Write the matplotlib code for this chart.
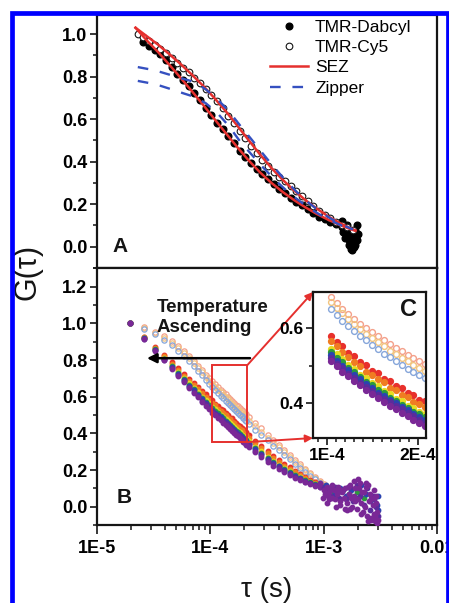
import numpy as np
import matplotlib
matplotlib.use('Agg')
import matplotlib.pyplot as plt
from matplotlib.patches import Rectangle
from matplotlib.ticker import MultipleLocator, LogLocator, NullFormatter, FixedLocator

plt.rcParams['font.family'] = ['Liberation Sans', 'DejaVu Sans']

# ---------------- Panel A data ----------------
cy5_logtau = [-4.64, -4.59, -4.54, -4.49, -4.44, -4.39, -4.34, -4.29, -4.24, -4.19,
              -4.14, -4.09, -4.04, -3.99, -3.94, -3.89, -3.84, -3.79, -3.74, -3.69,
              -3.64, -3.59, -3.54, -3.49, -3.44, -3.39, -3.34, -3.29, -3.24, -3.19,
              -3.14, -3.09, -3.04, -2.99, -2.94, -2.89, -2.84, -2.79, -2.74]
cy5_G = [1.00, 0.985, 0.968, 0.951, 0.932, 0.911, 0.889, 0.866, 0.843, 0.820,
         0.795, 0.770, 0.743, 0.715, 0.684, 0.651, 0.617, 0.581, 0.546, 0.510,
         0.475, 0.440, 0.407, 0.378, 0.352, 0.330, 0.308, 0.286, 0.263, 0.240,
         0.215, 0.192, 0.170, 0.151, 0.133, 0.117, 0.104, 0.092, 0.080]

dab_logtau = [-4.59, -4.54, -4.49, -4.44, -4.39, -4.34, -4.29, -4.24, -4.19, -4.14,
              -4.09, -4.04, -3.99, -3.94, -3.89, -3.84, -3.79, -3.74, -3.69, -3.64,
              -3.59, -3.54, -3.49, -3.44, -3.39, -3.34, -3.29, -3.24, -3.19, -3.14,
              -3.09, -3.04, -2.99, -2.94, -2.89, -2.84, -2.79]
dab_G = [0.962, 0.945, 0.926, 0.905, 0.877, 0.845, 0.814, 0.784, 0.754, 0.724,
         0.690, 0.654, 0.618, 0.584, 0.553, 0.522, 0.487, 0.451, 0.422, 0.395,
         0.367, 0.340, 0.318, 0.296, 0.273, 0.251, 0.231, 0.211, 0.194, 0.177,
         0.159, 0.142, 0.129, 0.117, 0.105, 0.092, 0.080]
dab_tail_logtau = [-2.86, -2.84, -2.82, -2.80, -2.79, -2.78, -2.77, -2.76, -2.75, -2.74,
                   -2.73, -2.72, -2.71, -2.70, -2.83, -2.81, -2.78, -2.76, -2.74, -2.72,
                   -2.77, -2.75, -2.73, -2.71]
dab_tail_G = [0.11, 0.12, 0.09, 0.06, 0.10, 0.03, 0.07, 0.02, 0.05, 0.00,
              0.04, 0.08, 0.10, 0.06, 0.07, 0.04, 0.01, -0.01, 0.03, 0.01,
              0.05, -0.015, 0.00, 0.03]

sez_logtau = [-4.66, -4.56, -4.46, -4.36, -4.26, -4.16, -4.06, -3.96, -3.86, -3.76,
              -3.66, -3.56, -3.46, -3.36, -3.26, -3.16, -3.06, -2.96, -2.86, -2.76, -2.72]
sez_cy5_G = [1.030, 0.990, 0.950, 0.905, 0.858, 0.808, 0.755, 0.697, 0.635, 0.568,
             0.500, 0.433, 0.370, 0.314, 0.264, 0.219, 0.179, 0.143, 0.112, 0.086, 0.077]
sez_dab_G = [1.030, 0.970, 0.915, 0.855, 0.793, 0.730, 0.665, 0.598, 0.532, 0.467,
             0.405, 0.349, 0.300, 0.257, 0.219, 0.185, 0.154, 0.127, 0.103, 0.082, 0.075]

zip_logtau = [-4.64, -4.54, -4.44, -4.34, -4.24, -4.14, -4.04, -3.94, -3.84, -3.74,
              -3.64, -3.54, -3.44, -3.34, -3.24, -3.14, -3.04, -2.94, -2.84, -2.74]
zip_cy5_G = [0.845, 0.835, 0.822, 0.806, 0.790, 0.775, 0.740, 0.695, 0.640, 0.572,
             0.507, 0.440, 0.375, 0.314, 0.259, 0.210, 0.168, 0.133, 0.104, 0.081]
zip_dab_G = [0.780, 0.770, 0.757, 0.740, 0.722, 0.705, 0.675, 0.630, 0.570, 0.497,
             0.436, 0.376, 0.320, 0.270, 0.226, 0.187, 0.153, 0.124, 0.099, 0.078]

# ---------------- Panel B data (tau in microseconds) ----------------
tauB_us = [19.5, 26, 32.5, 39, 45.5, 52, 58.5, 65, 71.5, 78, 84.5, 91, 97.5,
           104, 110.5, 117, 123.5, 130, 136.5, 143, 149.5, 156, 162.5, 169, 175.5,
           182, 188.5, 195, 201.5, 208,
           220, 250, 280, 320, 360, 400, 450, 500, 560, 620, 690, 760, 840, 920, 1000]

G_h1 = [1.0, 0.98, 0.955, 0.93, 0.903, 0.876, 0.849, 0.822, 0.795, 0.768, 0.744, 0.721, 0.701,
        0.683, 0.667, 0.652, 0.638, 0.625, 0.612, 0.600, 0.589, 0.578, 0.567, 0.557, 0.547, 0.538, 0.529, 0.520, 0.511, 0.503,
        0.488, 0.455, 0.427, 0.393, 0.363, 0.337, 0.309, 0.283, 0.256, 0.232, 0.207, 0.184, 0.161, 0.141, 0.122]
G_h2 = [1.0, 0.975, 0.948, 0.921, 0.893, 0.865, 0.837, 0.810, 0.783, 0.756, 0.732, 0.709, 0.688,
        0.670, 0.654, 0.639, 0.624, 0.610, 0.597, 0.585, 0.573, 0.562, 0.551, 0.540, 0.530, 0.521, 0.511, 0.502, 0.493, 0.485,
        0.470, 0.438, 0.410, 0.377, 0.348, 0.323, 0.296, 0.271, 0.245, 0.222, 0.198, 0.176, 0.155, 0.136, 0.118]
G_h3 = [1.0, 0.97, 0.94, 0.91, 0.88, 0.851, 0.822, 0.794, 0.766, 0.740, 0.716, 0.693, 0.671,
        0.652, 0.636, 0.620, 0.606, 0.592, 0.579, 0.567, 0.555, 0.543, 0.532, 0.522, 0.512, 0.502, 0.492, 0.483, 0.474, 0.466,
        0.452, 0.420, 0.393, 0.361, 0.333, 0.309, 0.283, 0.259, 0.234, 0.212, 0.190, 0.169, 0.149, 0.131, 0.114]
G_f1 = [1.0, 0.928, 0.872, 0.826, 0.787, 0.754, 0.724, 0.697, 0.674, 0.652, 0.631, 0.613, 0.595,
        0.580, 0.562, 0.551, 0.534, 0.526, 0.509, 0.501, 0.486, 0.481, 0.465, 0.458, 0.445, 0.440, 0.427, 0.421, 0.409, 0.405,
        0.390, 0.359, 0.333, 0.303, 0.278, 0.257, 0.234, 0.215, 0.195, 0.178, 0.162, 0.147, 0.133, 0.121, 0.111]
G_f2 = [1.0, 0.925, 0.867, 0.820, 0.780, 0.745, 0.715, 0.687, 0.662, 0.640, 0.619, 0.600, 0.582,
        0.565, 0.552, 0.535, 0.523, 0.509, 0.498, 0.484, 0.476, 0.463, 0.455, 0.441, 0.435, 0.422, 0.416, 0.403, 0.398, 0.390,
        0.376, 0.346, 0.320, 0.291, 0.267, 0.246, 0.224, 0.206, 0.187, 0.171, 0.156, 0.142, 0.129, 0.118, 0.109]
G_f3 = [1.0, 0.922, 0.861, 0.812, 0.770, 0.733, 0.702, 0.673, 0.647, 0.623, 0.601, 0.581, 0.563,
        0.545, 0.531, 0.517, 0.502, 0.491, 0.476, 0.467, 0.454, 0.445, 0.432, 0.425, 0.412, 0.405, 0.393, 0.387, 0.376, 0.371,
        0.356, 0.326, 0.301, 0.273, 0.250, 0.230, 0.210, 0.193, 0.175, 0.161, 0.147, 0.135, 0.124, 0.114, 0.106]
G_f4 = [1.0, 0.920, 0.858, 0.808, 0.765, 0.728, 0.696, 0.666, 0.640, 0.616, 0.593, 0.573, 0.554,
        0.536, 0.520, 0.509, 0.493, 0.483, 0.469, 0.457, 0.447, 0.435, 0.426, 0.414, 0.406, 0.395, 0.388, 0.377, 0.370, 0.362,
        0.348, 0.319, 0.294, 0.267, 0.243, 0.224, 0.204, 0.187, 0.171, 0.157, 0.143, 0.132, 0.121, 0.113, 0.105]
G_f5 = [1.0, 0.919, 0.856, 0.804, 0.761, 0.723, 0.690, 0.660, 0.634, 0.609, 0.586, 0.566, 0.546,
        0.528, 0.513, 0.500, 0.487, 0.474, 0.463, 0.450, 0.440, 0.428, 0.419, 0.408, 0.399, 0.389, 0.381, 0.371, 0.364, 0.356,
        0.343, 0.313, 0.288, 0.261, 0.239, 0.220, 0.200, 0.184, 0.167, 0.154, 0.141, 0.130, 0.120, 0.112, 0.105]
G_f6 = [1.0, 0.917, 0.853, 0.801, 0.757, 0.719, 0.685, 0.655, 0.628, 0.603, 0.579, 0.558, 0.538,
        0.520, 0.505, 0.493, 0.478, 0.467, 0.454, 0.444, 0.432, 0.422, 0.411, 0.402, 0.391, 0.383, 0.373, 0.365, 0.355, 0.348,
        0.335, 0.305, 0.281, 0.255, 0.232, 0.214, 0.194, 0.178, 0.163, 0.150, 0.137, 0.127, 0.118, 0.110, 0.104]
G_f7 = [1.0, 0.916, 0.851, 0.798, 0.753, 0.714, 0.680, 0.649, 0.621, 0.596, 0.572, 0.551, 0.531,
        0.512, 0.498, 0.483, 0.472, 0.458, 0.447, 0.434, 0.425, 0.413, 0.404, 0.392, 0.384, 0.373, 0.365, 0.355, 0.347, 0.338,
        0.325, 0.296, 0.272, 0.246, 0.224, 0.206, 0.187, 0.172, 0.157, 0.145, 0.133, 0.124, 0.115, 0.108, 0.1025]

hollow_series = [G_h1, G_h2, G_h3]
hollow_colors = ['#f4a08a', '#f2c47e', '#86a6da']
filled_series = [G_f1, G_f2, G_f3, G_f4, G_f5, G_f6, G_f7]
filled_colors = ['#e8302c', '#f07c22', '#e6dc22', '#2c9a3c', '#2a44b0', '#5a2c9c', '#7a2896']

# noisy tail cloud (tau in microseconds)
tail_purple_us = [1000, 1030, 1060, 1090, 1120, 1150, 1190, 1230, 1270, 1310, 1350, 1400, 1450, 1500,
                  1550, 1600, 1660, 1720, 1780, 1840, 1900, 1960, 2020, 2080, 2150, 2220, 2290, 2360,
                  2430, 2500, 2570, 2640, 2710, 2780, 2850, 2920, 2980,
                  1120, 1380, 1620, 1870, 2120, 2380, 2600, 2800, 2950]
tail_purple_G = [0.09, 0.07, 0.11, 0.06, 0.08, 0.10, 0.05, 0.09, 0.04, 0.07,
                 0.11, 0.03, 0.08, 0.05, 0.10, 0.02, 0.07, 0.12, 0.00, 0.06,
                 0.10, -0.01, 0.04, 0.13, 0.02, -0.03, 0.08, 0.11, -0.05, 0.03,
                 0.07, -0.06, 0.01, 0.05, -0.08, 0.02, -0.09,
                 0.04, 0.01, -0.02, 0.14, -0.04, 0.13, -0.07, 0.09, -0.03]
tail_purple2_us = [930, 980, 1070, 1180, 1290, 1420, 1530, 1650, 1760, 1890,
                   2000, 2180, 2320, 2460, 2620, 2760, 2900, 3000, 1330, 1710,
                   2050, 2480, 2830]
tail_purple2_G = [0.13, 0.05, 0.02, 0.12, 0.00, 0.09, -0.01, 0.11, 0.05, 0.03,
                  0.15, 0.08, 0.00, 0.12, 0.04, -0.04, 0.06, -0.07, 0.08, -0.01,
                  0.10, -0.08, -0.05]
tail_violet_us = [1010, 1080, 1170, 1260, 1360, 1470, 1580, 1700, 1830, 1960, 2100, 2250, 2400,
                  2550, 2700, 2870, 3000]
tail_violet_G = [0.10, 0.08, 0.06, 0.11, 0.05, 0.09, 0.04, 0.11, 0.03, 0.12, 0.06, 0.01, 0.10,
                 -0.02, 0.06, 0.00, -0.05]
tail_blue_us = [1040, 1140, 1250, 1400, 1560, 1740, 1930, 2130, 2340, 2560, 2790, 2990, 3000, 2970]
tail_blue_G = [0.12, 0.09, 0.07, 0.10, 0.06, 0.09, 0.05, 0.12, 0.07, 0.03, 0.04, 0.06, -0.02, 0.01]
tail_green_us = [1060, 1230, 1450, 1680, 1950, 2250, 2600]
tail_green_G = [0.11, 0.08, 0.09, 0.07, 0.08, 0.05, 0.06]

x_ticks = [1e-5, 1e-4, 1e-3, 1e-2]
x_ticklabels = ['1E-5', '1E-4', '1E-3', '0.01']

# ---------------- figure ----------------
fig = plt.figure(figsize=(4.49, 6.03), dpi=100)
L, W = 97 / 449, 340 / 449
axA = fig.add_axes([L, 1 - 268 / 603, W, 253 / 603])
axB = fig.add_axes([L, 1 - 525 / 603, W, 257 / 603], sharex=axA)

ink = '#151515'

def style(ax, lsize=13):
    for s in ax.spines.values():
        s.set_linewidth(1.6)
        s.set_color(ink)
    ax.tick_params(which='major', direction='out', length=5, width=1.2, color=ink, pad=2,
                   labelsize=lsize)
    ax.tick_params(which='minor', direction='out', length=3, width=1.1, color=ink)
    ax.tick_params(top=False, right=False)
    for lab in ax.get_xticklabels() + ax.get_yticklabels():
        lab.set_fontweight('bold')

# Panel A
red = '#e5302e'
blue = '#3550c0'
tA_cy5 = 10 ** np.array(cy5_logtau)
tA_dab = 10 ** np.array(dab_logtau)
axA.plot(tA_dab, dab_G, 'o', color='black', ms=4.8, mec='black', label='TMR-Dabcyl', zorder=2)
axA.plot(10 ** np.array(dab_tail_logtau), dab_tail_G, 'o', color='black', ms=4.8, zorder=2)
axA.plot(tA_cy5, cy5_G, 'o', mfc='white', mec=ink, mew=0.8, ms=4.8, label='TMR-Cy5', zorder=3)
tz = 10 ** np.array(sez_logtau)
axA.plot(tz, sez_cy5_G, '-', color=red, lw=1.8, label='SEZ', zorder=4)
axA.plot(tz, sez_dab_G, '-', color=red, lw=1.8, zorder=4)
tzp = 10 ** np.array(zip_logtau)
axA.plot(tzp, zip_cy5_G, '--', color=blue, lw=1.7, dashes=(4.5, 5), label='Zipper', zorder=4)
axA.plot(tzp, zip_dab_G, '--', color=blue, lw=1.7, dashes=(4.5, 5), zorder=4)

axA.set_xscale('log')
axA.set_xlim(1e-5, 1e-2)
axA.set_ylim(-0.1, 1.09)
axA.yaxis.set_major_locator(FixedLocator([0.0, 0.2, 0.4, 0.6, 0.8, 1.0]))
axA.yaxis.set_minor_locator(MultipleLocator(0.1))
axA.set_yticklabels(['0.0', '0.2', '0.4', '0.6', '0.8', '1.0'])
axA.tick_params(axis='x', which='both', bottom=False, labelbottom=False)
style(axA)
axA.text(1.38e-5, 0.0, 'A', fontsize=15, fontweight='bold', va='center', ha='left', color=ink)
leg = axA.legend(loc='upper right', bbox_to_anchor=(0.925, 0.982), frameon=False, fontsize=12.5,
                 handlelength=2.2, handletextpad=0.4, labelspacing=0.3, borderaxespad=0,
                 borderpad=0, numpoints=1)

# Panel B
tB = np.array(tauB_us) * 1e-6
for G, c in zip(hollow_series, hollow_colors):
    axB.plot(tB, G, 'o', mfc='none', mec=c, mew=0.9, ms=3.8, zorder=2)
for G, c in zip(filled_series, filled_colors):
    axB.plot(tB, G, 'o', color=c, mec=c, ms=3.2, zorder=3)
axB.plot(np.array(tail_green_us) * 1e-6, tail_green_G, 'o', color=filled_colors[3], ms=3.2, zorder=3)
axB.plot(np.array(tail_blue_us) * 1e-6, tail_blue_G, 'o', color=filled_colors[4], ms=3.2, zorder=3)
axB.plot(np.array(tail_violet_us) * 1e-6, tail_violet_G, 'o', color=filled_colors[5], ms=3.2, zorder=3)
axB.plot(np.array(tail_purple_us) * 1e-6, tail_purple_G, 'o', color=filled_colors[6], ms=3.2, zorder=3)
axB.plot(np.array(tail_purple2_us) * 1e-6, tail_purple2_G, 'o', color=filled_colors[6], ms=3.2, zorder=3)

axB.set_ylim(-0.1, 1.302)
axB.yaxis.set_major_locator(FixedLocator([0.0, 0.2, 0.4, 0.6, 0.8, 1.0, 1.2]))
axB.yaxis.set_minor_locator(MultipleLocator(0.1))
axB.set_yticklabels(['0.0', '0.2', '0.4', '0.6', '0.8', '1.0', '1.2'])
axB.xaxis.set_major_locator(FixedLocator(x_ticks))
axB.set_xticklabels(x_ticklabels)
axB.xaxis.set_minor_locator(LogLocator(base=10, subs=np.arange(2, 10)))
axB.xaxis.set_minor_formatter(NullFormatter())
style(axB)
axB.tick_params(axis='x', which='major', length=6.5, pad=4)
axB.tick_params(axis='x', which='minor', length=3.5)
axB.text(1.5e-5, 0.05, 'B', fontsize=15, fontweight='bold', va='center', ha='left', color=ink)

axB.text(3.38e-5, 1.03, 'Temperature\nAscending', fontsize=13.5, fontweight='bold',
         va='center', ha='left', linespacing=1.22, color=ink)
axB.annotate('', xy=(2.76e-5, 0.81), xytext=(2.24e-4, 0.81),
             arrowprops=dict(arrowstyle='-|>', lw=1.8, color='black', mutation_scale=14,
                             shrinkA=0, shrinkB=0))

# zoom box
bx0, bx1, by0, by1 = 1.03e-4, 2.12e-4, 0.352, 0.772
axB.add_patch(Rectangle((bx0, by0), bx1 - bx0, by1 - by0, fill=False, ec=red, lw=1.4, zorder=5))

# inset C
axC = fig.add_axes([313 / 449, 1 - 438 / 603, 113 / 449, 146 / 603])
mask = (tB >= 1.0e-4) & (tB <= 2.1e-4)
for G, c in zip(hollow_series, hollow_colors):
    axC.plot(tB[mask], np.array(G)[mask], 'o', mfc='none', mec=c, mew=1.0, ms=4.2)
for G, c in zip(filled_series, filled_colors):
    axC.plot(tB[mask], np.array(G)[mask], 'o', color=c, mec=c, ms=4.2)
axC.set_xlim(0.846e-4, 2.088e-4)
axC.set_ylim(0.307, 0.696)
axC.xaxis.set_major_locator(FixedLocator([1e-4, 2e-4]))
axC.set_xticklabels(['1E-4', '2E-4'])
axC.xaxis.set_minor_locator(MultipleLocator(1e-5))
axC.yaxis.set_major_locator(FixedLocator([0.4, 0.6]))
axC.set_yticklabels(['0.4', '0.6'])
axC.yaxis.set_minor_locator(MultipleLocator(0.1))
style(axC, lsize=12.5)
axC.text(0.845, 0.88, 'C', transform=axC.transAxes, fontsize=17, fontweight='bold',
         ha='center', va='center', color=ink)

# red arrows from box to inset
axB.annotate('', xy=(0, 1), xycoords=axC.transAxes, xytext=(bx1, by1), textcoords='data',
             arrowprops=dict(arrowstyle='-|>', lw=1.4, color=red, mutation_scale=11,
                             shrinkA=0, shrinkB=0), zorder=6)
axB.annotate('', xy=(0, 0), xycoords=axC.transAxes, xytext=(bx1, by0), textcoords='data',
             arrowprops=dict(arrowstyle='-|>', lw=1.4, color=red, mutation_scale=11,
                             shrinkA=0, shrinkB=0), zorder=6)

# axis labels
fig.text(28 / 449, 1 - 272 / 603, 'G(τ)', rotation=90, ha='center', va='center', fontsize=22, color=ink)
fig.text(267 / 449, 1 - 590 / 603, 'τ (s)', ha='center', va='center', fontsize=20, color=ink)

# blue frame
fig.add_artist(Rectangle((12 / 449, -0.05), (447.5 - 12) / 449, (603 - 12.5) / 603 + 0.05,
                         transform=fig.transFigure, fill=False, ec='#0000ff', lw=3.4, zorder=20))

fig.savefig('out.png', dpi=100)
